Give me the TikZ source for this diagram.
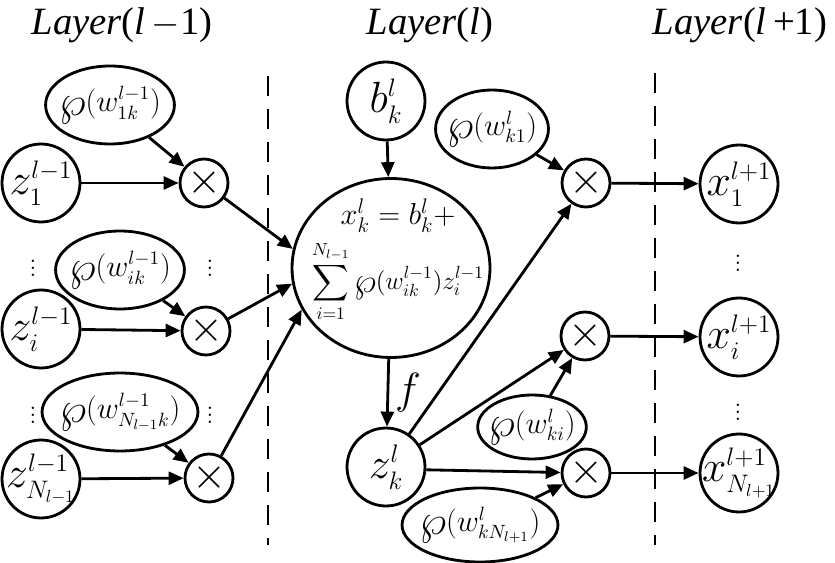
\documentclass[tikz,border=0pt]{standalone}
\usepackage{fontspec}
\usepackage{exscale}
\newfontfamily\titlefont{Liberation Serif}
\usetikzlibrary{arrows.meta,shapes.geometric}
\DeclareMathSizes{30}{30}{14}{10}
\DeclareMathSizes{19}{19}{12.5}{9}
\DeclareMathSizes{17}{17}{11}{8}
\DeclareMathSizes{15.5}{15.5}{10}{7}
\newcommand\bigwp{\mathord{\raisebox{-0.12em}{\scalebox{1.4}{$\wp$}}}}

\tikzset{
  neuron/.style={circle, draw, line width=1.6pt, minimum size=1.56cm, inner sep=-6pt, font=\fontsize{30}{32}\selectfont},
  weight/.style={ellipse, draw, line width=1.6pt, minimum width=2.2cm, minimum height=1.56cm, inner sep=-3pt, font=\fontsize{17}{19}\selectfont},
  mult/.style={circle, draw, line width=1.6pt, minimum size=0.96cm, inner sep=0pt, font=\fontsize{24}{26}\selectfont},
  sumcell/.style={ellipse, draw, line width=1.6pt, minimum width=3.96cm, minimum height=3.58cm, inner sep=0pt},
  link/.style={line width=1.6pt, -{Triangle[length=3mm,width=2.6mm]}},
  layerbar/.style={line width=1.6pt, dash pattern=on 0.4cm off 0.26cm},
  layertitle/.style={font=\titlefont\fontsize{22}{26}\selectfont},
  dots/.style={inner sep=0pt, font=\fontsize{14}{16}\selectfont}
}

\begin{document}
\begin{tikzpicture}[x=0.02cm, y=-0.02cm]
	\useasboundingbox (0,0) rectangle (835,563);
	
	%%% titles
	\node[layertitle] (tprev) at (122,25) {\textit{Layer}(\textit{l}\,$-$1)};
	\node[layertitle] (tcur) at (430,25) {\textit{Layer}(\textit{l})};
	\node[layertitle] (tnext) at (740,25) {\textit{Layer}(\textit{l}\,+1)};
	
	%%% layer borders
	\draw[layerbar] (268,76) -- (268,545);
	\draw[layerbar] (655,73) -- (655,545);
	
	%%% layer l-1
	\node[neuron] (z1) at (41,183) {$z^{l-1}_{1}$};
	\node[neuron] (zi) at (41,329) {$z^{l-1}_{i}$};
	\node[neuron] (zN) at (41,479) {$z^{l-1}_{N_{l-1}}$};
	
	\node[weight] (w1) at (110,105) {$\bigwp(w^{l-1}_{1k})$};
	\node[weight] (wi) at (120,270) {$\bigwp(w^{l-1}_{ik})$};
	\node[weight] (wN) at (120,412) {$\bigwp(w^{l-1}_{N_{l-1}k})$};
	
	\node[mult] (m1) at (204,183) {$\times$};
	\node[mult] (mi) at (206,331) {$\times$};
	\node[mult] (mN) at (209,478) {$\times$};
	
	\node[dots] (dz1) at (33,263) {$\vdots$};
	\node[dots] (dm1) at (210,263) {$\vdots$};
	\node[dots] (dz2) at (33,410) {$\vdots$};
	\node[dots] (dm2) at (210,410) {$\vdots$};
	
	%%% layer l
	\node[neuron] (b) at (386,101) {$b^{l}_{k}$};
	\node[sumcell] (sum) at (391,268) {};
	\node[font=\fontsize{15.5}{20}\selectfont, align=center, inner sep=0pt] (sumeq) at (398,260)
		{{\fontsize{19}{22}\selectfont$x^{l}_{k}=b^{l}_{k}+$}\\[4pt]
		 $\displaystyle\sum_{i=1}^{N_{l-1}}\bigwp(w^{l-1}_{ik})z^{l-1}_{i}$};
	\node[neuron] (zk) at (386,467) {$z^{l}_{k}$};
	
	\node[weight, minimum width=2cm] (v1) at (492,129) {$\bigwp(w^{l}_{k1})$};
	\node[weight, minimum width=2.08cm, minimum height=1.28cm] (vi) at (532,427) {$\bigwp(w^{l}_{ki})$};
	\node[weight, minimum height=1.48cm] (vN) at (480,525) {$\bigwp(w^{l}_{kN_{l+1}})$};
	
	\node[mult] (n1) at (586,183) {$\times$};
	\node[mult] (ni) at (585,336) {$\times$};
	\node[mult] (nN) at (586,473) {$\times$};
	
	%%% layer l+1
	\node[neuron] (x1) at (739,184) {$x^{l+1}_{1}$};
	\node[neuron] (xi) at (739,337) {$x^{l+1}_{i}$};
	\node[neuron] (xN) at (739,473) {$x^{l+1}_{N_{l+1}}$};
	
	\node[dots] (dx1) at (738,258) {$\vdots$};
	\node[dots] (dx2) at (738,407) {$\vdots$};
	
	%%% connections
	\draw[link] (w1) -- (m1);
	\draw[link] (z1) -- (m1);
	\draw[link] (wi) -- (mi);
	\draw[link] (zi) -- (mi);
	\draw[link] (wN) -- (mN);
	\draw[link] (zN) -- (mN);
	
	\draw[link] (m1) -- (sum.169);
	\draw[link] (mi) -- (sum.189);
	\draw[link] (mN) -- (sum.205);
	
	\draw[link] (b) -- (sum);
	\draw[link] (sum) -- node[right, font=\fontsize{24}{26}\selectfont] {$f$} (zk);
	
	\draw[link] (zk) -- (n1);
	\draw[link] (zk) -- (ni);
	\draw[link] (zk.-4) -- (nN);
	\draw[link] (v1) -- (n1);
	\draw[link] (vi) -- (ni);
	\draw[link] (vN) -- (nN);
	
	\draw[link] (n1) -- (x1);
	\draw[link] (ni) -- (xi);
	\draw[link] (nN) -- (xN);
\end{tikzpicture}
\end{document}
